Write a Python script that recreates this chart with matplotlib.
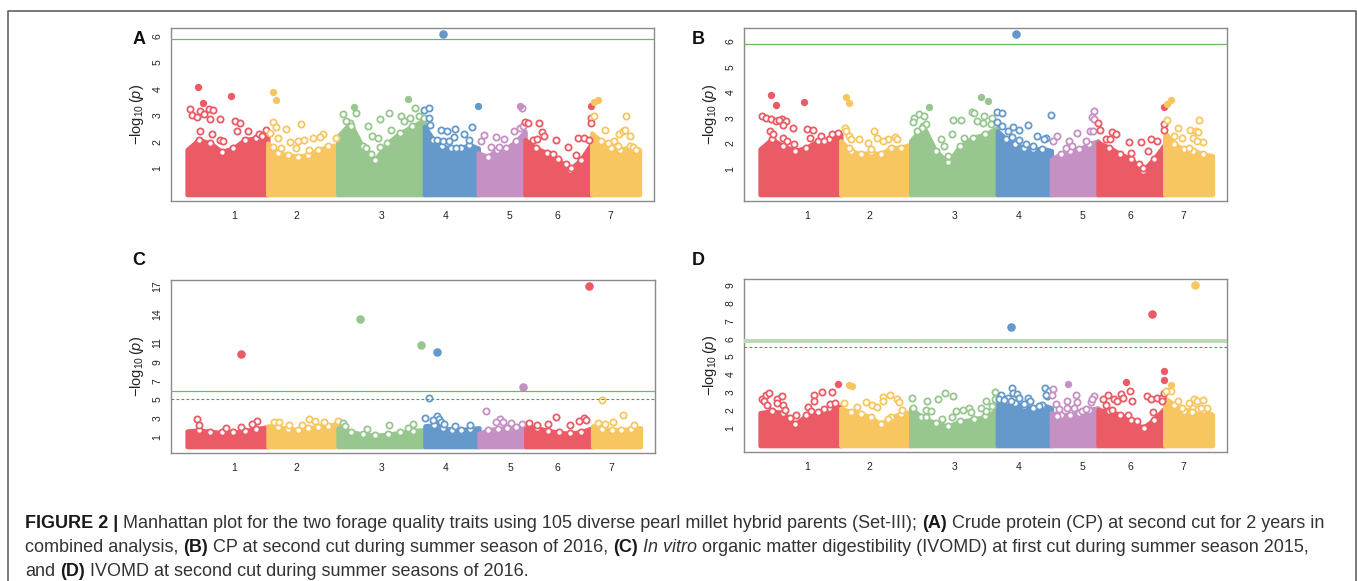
import matplotlib
matplotlib.use("Agg")
import matplotlib.pyplot as plt
import numpy as np
from matplotlib.lines import Line2D

plt.rcParams["font.family"] = ["Liberation Sans", "DejaVu Sans"]
plt.rcParams["mathtext.fontset"] = "custom"
plt.rcParams["mathtext.rm"] = "Liberation Sans"
plt.rcParams["mathtext.it"] = "Liberation Sans:italic"

# ─────────────────────────────────────────────────────────────
# data
# ─────────────────────────────────────────────────────────────
chrom_names = ["1", "2", "3", "4", "5", "6", "7"]
chrom_len = [271, 235, 291, 181, 157, 224, 160]      # Mb
tick_pos = [157, 95, 146, 70, 105, 107, 63]         # label spot inside each chromosome
chrom_colors = ["#EA5B66", "#F8C660", "#97C68F", "#6599CB", "#C590C3", "#EA5B66", "#F8C660"]

# top of the dense marker cloud, evenly spaced along each chromosome
envA = [[1.70, 2.08, 1.95, 1.63, 1.76, 2.08, 2.14, 2.20],
        [1.95, 1.57, 1.51, 1.44, 1.51, 1.70, 1.82, 1.89],
        [2.20, 2.71, 1.82, 1.32, 1.95, 2.33, 2.58, 2.84],
        [2.58, 2.08, 1.82, 1.76, 1.76, 1.89, 1.76],
        [1.57, 1.44, 1.70, 1.76, 2.01, 2.39],
        [2.08, 1.76, 1.57, 1.32, 0.94, 1.32, 1.95],
        [2.33, 2.01, 1.76, 1.70, 1.82, 1.70]]
envB = [[1.78, 2.17, 1.91, 1.72, 1.84, 2.10, 2.17, 2.36],
        [2.10, 1.72, 1.59, 1.65, 1.59, 1.84, 1.84, 1.97],
        [2.10, 2.69, 1.72, 1.26, 1.91, 2.23, 2.36, 2.62],
        [2.49, 2.17, 1.97, 1.84, 1.78, 1.80, 1.72],
        [1.39, 1.59, 1.72, 1.78, 1.97, 2.10],
        [2.04, 1.84, 1.59, 1.39, 0.94, 1.39, 1.97],
        [2.43, 1.97, 1.78, 1.72, 1.59, 1.52]]
envC = [[1.65, 1.75, 1.60, 1.50, 1.50, 1.70, 1.90, 2.10],
        [2.20, 2.10, 1.90, 1.80, 2.00, 2.10, 2.20, 2.50],
        [2.00, 1.60, 1.30, 1.20, 1.30, 1.50, 1.70, 1.80],
        [2.20, 2.30, 2.00, 1.80, 1.80, 1.90, 2.00],
        [1.40, 1.80, 1.90, 2.00, 2.10, 2.20],
        [2.20, 2.00, 1.70, 1.50, 1.40, 1.60, 2.00],
        [2.20, 1.90, 1.80, 1.80, 1.90, 2.00]]
envD = [[1.85, 1.95, 1.85, 1.20, 1.70, 1.90, 2.10, 2.20],
        [2.10, 1.90, 1.80, 1.60, 1.20, 1.60, 1.80, 1.90],
        [2.10, 1.56, 1.28, 1.09, 1.37, 1.46, 1.65, 2.00],
        [2.77, 2.49, 2.40, 2.21, 2.12, 2.30, 2.12],
        [1.84, 1.74, 1.74, 1.84, 2.02, 2.12],
        [2.02, 1.93, 1.74, 1.46, 0.99, 1.46, 2.12],
        [2.68, 2.30, 1.93, 2.12, 2.02, 1.74]]

# individual markers standing out of the cloud: position (Mb) and -log10(p)
posA = [[36, 148, 54, 10, 16, 45, 58, 75, 86, 78, 111, 34, 161, 179, 168, 206, 45, 85, 109, 120, 243, 265, 251],
        [19, 28, 17, 28, 62, 112, 6, 34, 73, 101, 123, 151, 185, 176, 230, 17, 45, 95, 140],
        [17, 54, 62, 28, 45, 103, 115, 143, 171, 235, 261, 211, 221, 244, 274, 289, 179, 134, 143, 110, 95],
        [64, 0, 17, 17, 20, 56, 75, 104, 132, 161, 181, 41, 62, 84, 99, 151, 123, 106],
        [141, 146, 20, 59, 87, 121, 141, 149, 43, 71, 9],
        [0, 9, 48, 56, 65, 26, 40, 104, 143, 179, 199, 216, 93, 110, 138, 155, 171, 223, 223, 222],
        [9, 22, 9, 116, 45, 76, 93, 104, 110, 130, 138, 147, 54, 87]]
valA = [[4.07, 3.72, 3.47, 3.24, 3.03, 3.15, 3.05, 3.24, 3.19, 2.86, 2.86, 2.94, 2.77, 2.69, 2.42, 2.42, 2.39, 2.31, 2.08, 2.01, 2.31, 2.46, 2.20],
        [3.89, 3.57, 2.75, 2.55, 2.50, 2.67, 2.33, 2.14, 1.99, 2.04, 2.08, 2.14, 2.31, 2.17, 2.14, 1.80, 1.76, 1.76, 1.70],
        [3.05, 3.31, 3.09, 2.77, 2.58, 2.61, 2.23, 2.87, 3.09, 3.60, 3.28, 2.99, 2.80, 2.90, 2.99, 2.90, 2.46, 2.14, 1.80, 1.55, 1.76],
        [6.06, 3.19, 3.28, 2.90, 2.65, 2.43, 2.39, 2.48, 2.29, 2.56, 3.37, 2.08, 2.04, 2.04, 2.17, 2.05, 1.76, 1.76],
        [3.34, 3.28, 2.24, 2.18, 2.12, 2.42, 2.52, 2.58, 1.80, 1.80, 2.01],
        [2.75, 2.69, 2.69, 2.35, 2.23, 2.08, 2.10, 2.08, 1.80, 2.14, 2.14, 2.05, 1.55, 1.34, 1.17, 1.00, 1.51, 3.37, 2.90, 2.71],
        [3.50, 3.57, 2.96, 2.96, 2.43, 2.01, 2.31, 2.42, 2.43, 2.20, 1.80, 1.70, 1.95, 1.82]]

posB = [[36, 53, 146, 8, 19, 36, 53, 75, 86, 64, 78, 109, 159, 178, 168, 34, 45, 78, 92, 114, 206, 240, 262, 215],
        [17, 26, 15, 19, 28, 34, 62, 112, 123, 93, 101, 157, 181, 190, 143, 28],
        [62, 11, 28, 45, 50, 39, 22, 6, 235, 258, 207, 213, 246, 274, 221, 243, 143, 170, 140, 103, 112, 125, 179, 269],
        [62, 0, 17, 0, 17, 34, 54, 73, 103, 132, 162, 157, 181, 50, 73, 95, 118],
        [143, 138, 143, 129, 141, 115, 85, 59, 20, 7, 48, 71],
        [0, 7, 48, 59, 26, 40, 104, 143, 179, 199, 168, 110, 138, 152, 223, 223, 223],
        [7, 22, 9, 115, 45, 85, 104, 112, 96, 127, 108, 82, 59, 31]]
valB = [[3.90, 3.51, 3.60, 3.08, 3.01, 2.95, 2.88, 2.97, 2.86, 2.91, 2.71, 2.60, 2.56, 2.52, 2.23, 2.49, 2.36, 2.21, 2.10, 1.97, 2.30, 2.36, 2.40, 2.10],
        [3.83, 3.57, 2.62, 2.49, 2.30, 2.17, 2.17, 2.47, 2.21, 2.00, 1.78, 2.17, 2.26, 2.17, 2.10, 1.84],
        [3.43, 3.01, 3.14, 3.08, 2.75, 2.62, 2.49, 2.82, 3.82, 3.66, 3.21, 3.17, 3.08, 3.01, 2.88, 2.79, 2.91, 2.91, 2.36, 2.19, 1.88, 1.49, 2.23, 2.75],
        [6.26, 3.21, 3.17, 2.82, 2.69, 2.47, 2.66, 2.52, 2.71, 2.30, 2.21, 2.17, 3.12, 2.27, 2.13, 1.97, 1.88],
        [3.25, 3.05, 2.95, 2.49, 2.49, 2.10, 2.39, 2.10, 2.30, 2.10, 1.84, 1.88],
        [2.79, 2.52, 2.43, 2.36, 2.17, 2.17, 2.04, 2.04, 2.17, 2.10, 1.72, 1.62, 1.20, 1.03, 3.43, 2.75, 2.53],
        [3.53, 3.70, 2.91, 2.91, 2.59, 2.53, 2.49, 2.45, 2.23, 2.04, 2.10, 1.84, 2.23, 2.30]]

posC = [[179, 34, 41, 234, 216, 179, 129],
        [19, 38, 138, 157, 189, 233, 69, 113],
        [72, 279, 16, 171, 251, 22, 97, 233],
        [40, 12, 0, 40, 46, 53, 28, 65, 102, 150],
        [147, 25, 69, 57, 107, 144, 82],
        [212, 101, 194, 178, 12, 74, 37, 148, 203],
        [33, 101, 43, 69, 140, 17]]
valC = [[9.86, 2.93, 2.33, 2.76, 2.40, 2.10, 2.00],
        [2.65, 2.58, 2.93, 2.76, 2.58, 2.76, 2.30, 2.30],
        [13.49, 10.74, 2.51, 2.30, 2.40, 2.20, 1.90, 2.00],
        [10.04, 5.15, 3.04, 3.29, 2.95, 2.65, 2.80, 2.40, 2.20, 2.30],
        [6.35, 3.74, 2.93, 2.65, 2.51, 2.40, 2.60],
        [17.0, 3.10, 3.04, 2.76, 2.51, 2.40, 2.30, 2.30, 2.80],
        [4.94, 3.39, 2.40, 2.58, 2.30, 2.50]]

posD = [[8, 19, 30, 13, 22, 56, 58, 72, 78, 83, 100, 122, 161, 181, 181, 207, 213, 240, 235, 252, 263, 170],
        [28, 39, 11, 56, 84, 106, 121, 143, 143, 165, 188, 196, 205, 157, 134],
        [3, 9, 53, 50, 67, 90, 115, 142, 34, 50, 106, 140, 153, 174, 196, 202, 237, 254, 252, 274, 283, 282, 213],
        [47, 11, 6, 50, 54, 67, 73, 34, 45, 103, 110, 140, 160, 174, 168, 162, 22, 90],
        [7, 3, 15, 26, 56, 82, 54, 54, 87, 76, 132, 143, 138, 104, 115, 18],
        [181, 15, 34, 54, 65, 76, 84, 93, 106, 113, 132, 155, 164, 179, 199, 183, 99, 48, 26, 216, 220, 220, 220, 216],
        [102, 20, 22, 3, 43, 59, 82, 99, 108, 130, 112, 143, 93, 121]]
valD = [[2.62, 2.87, 2.96, 2.49, 2.30, 2.59, 2.40, 2.77, 2.30, 2.02, 1.56, 1.74, 2.17, 2.87, 2.49, 3.02, 2.06, 3.02, 2.36, 2.40, 3.48, 1.97],
        [3.43, 3.33, 2.40, 2.17, 2.43, 2.30, 2.17, 2.72, 2.49, 2.83, 2.59, 2.43, 2.02, 1.50, 1.24],
        [2.68, 2.12, 2.49, 1.99, 1.93, 2.62, 2.96, 2.81, 1.61, 1.61, 1.50, 1.61, 1.93, 1.99, 2.12, 1.87, 2.12, 2.49, 1.93, 2.21, 3.00, 2.59, 1.50],
        [6.66, 2.87, 2.59, 3.24, 2.96, 2.92, 2.68, 2.68, 2.53, 2.68, 2.49, 2.25, 3.24, 3.05, 2.77, 2.87, 2.55, 2.36],
        [3.20, 2.87, 2.34, 2.06, 3.48, 2.87, 2.53, 2.12, 2.44, 2.12, 2.44, 2.77, 2.59, 1.93, 2.06, 1.65],
        [7.41, 2.59, 2.83, 2.59, 2.49, 2.92, 2.68, 3.58, 3.09, 2.49, 1.37, 0.99, 2.77, 2.62, 2.68, 1.87, 1.74, 2.02, 2.30, 2.68, 4.19, 3.67, 2.96, 2.49],
        [9.0, 3.43, 3.09, 3.05, 2.49, 2.12, 2.40, 2.59, 2.53, 2.55, 2.06, 2.12, 1.87, 2.12]]

yticksA = [1, 2, 3, 4, 5, 6]
yticksB = [1, 2, 3, 4, 5, 6]
yticksC = [1, 3, 5, 7, 9, 11, 14, 17]
yticksD = [1, 2, 3, 4, 5, 6, 7, 8, 9]

sig_line = {"A": 5.87, "B": 5.87, "C": 5.87, "D": 5.86}
sug_line = {"C": 5.10, "D": 5.56}

# ─────────────────────────────────────────────────────────────
# layout (pixels of a 1357 x 581 canvas)
# ─────────────────────────────────────────────────────────────
W, H = 1357, 581
fig = plt.figure(figsize=(W / 100, H / 100), dpi=100)

def px_axes(x0, y0, x1, y1):
    return fig.add_axes([x0 / W, 1 - y1 / H, (x1 - x0) / W, (y1 - y0) / H])

panels = [
    ("A", px_axes(171, 28, 654, 201), envA, posA, valA, yticksA, 3.3),
    ("B", px_axes(744, 28, 1227, 201), envB, posB, valB, yticksB, 3.3),
    ("C", px_axes(171, 280, 655, 453), envC, posC, valC, yticksC, 9.0),
    ("D", px_axes(744, 279, 1227, 452), envD, posD, valD, yticksD, 3.3),
]
letter_xy = {"A": (139, 40), "B": (698, 40), "C": (139, 260), "D": (698, 261)}

starts = np.concatenate([[0], np.cumsum(chrom_len)[:-1]])
total = float(np.sum(chrom_len))

for name, ax, env, pos, val, yt, fill_min in panels:
    ymax = max(max(v) for v in val)
    for i in range(len(chrom_len)):
        col = chrom_colors[i]
        xs = np.linspace(starts[i], starts[i] + chrom_len[i], len(env[i]))
        ax.fill_between(xs, 0, env[i], facecolor=col, edgecolor=col,
                        lw=3.2, joinstyle="round", zorder=1)
        # rough edge of the cloud
        ax.scatter(xs[1:-1], np.array(env[i])[1:-1], s=20, facecolors="white",
                   edgecolors=col, linewidths=1.3, zorder=2)
        x = starts[i] + np.array(pos[i], dtype=float)
        y = np.array(val[i], dtype=float)
        big = y >= 5.5
        mid = (y >= fill_min) & ~big
        low = ~(big | mid)
        ax.scatter(x[low], y[low], s=20, facecolors="white", edgecolors=col,
                   linewidths=1.3, zorder=2)
        ax.scatter(x[mid], y[mid], s=28, color=col, linewidths=0, zorder=3)
        ax.scatter(x[big], y[big], s=38, color=col, linewidths=0, zorder=4)

    if name == "D":
        ax.axhline(sig_line[name], color="#b7dbb1", lw=2.8, zorder=5)
    else:
        ax.axhline(sig_line[name], color="#72b46a", lw=0.9, zorder=5)
    if name in sug_line:
        ax.axhline(sug_line[name], color="#4f9b49", lw=0.8, ls=(0, (2.5, 2)), zorder=5)

    ax.set_xlim(-54, total + 49)
    ax.set_ylim(-0.04 * ymax, 1.04 * ymax)
    ax.set_xticks(starts + np.array(tick_pos))
    ax.set_xticklabels(chrom_names)
    ax.set_yticks(yt)
    ax.set_yticklabels([str(t) for t in yt], rotation=90, va="center")
    ax.tick_params(length=0, labelsize=7.5, labelcolor="#222222")
    ax.tick_params(axis="x", pad=7)
    ax.tick_params(axis="y", pad=6)
    for sp in ax.spines.values():
        sp.set_color("#8a8a8a")
        sp.set_linewidth(1.0)

    bb = ax.get_position()
    fig.text(bb.x0 - 34 / W, bb.y0 + bb.height / 2, r"$-\log_{10}(\mathit{p})$",
             rotation=90, ha="center", va="center", fontsize=10.5, color="#222222")
    lx, ly = letter_xy[name]
    fig.text(lx / W, 1 - ly / H, name, fontsize=13, fontweight="bold",
             ha="center", va="center", color="#111111")

# outer frame (left, top, right)
fig.add_artist(Line2D([8 / W, 8 / W, 1355.5 / W, 1355.5 / W],
                      [0, 1 - 11 / H, 1 - 11 / H, 0],
                      transform=fig.transFigure, color="#555555", lw=1.1))

# ─────────────────────────────────────────────────────────────
# caption with mixed bold / italic runs
# ─────────────────────────────────────────────────────────────
rend = fig.canvas.get_renderer()
styles = {"n": ("normal", "normal", "#333333"),
          "b": ("bold", "normal", "#1a1a1a"),
          "i": ("normal", "italic", "#333333")}

def text_w(s, size, kind):
    wgt, sty, _ = styles[kind]
    t = fig.text(0, 0, s, fontsize=size, fontweight=wgt, fontstyle=sty)
    w = t.get_window_extent(renderer=rend).width
    t.remove()
    return w

def draw_line(parts, x, y, size, draw=True):
    sp = text_w("x x", size, "n") - text_w("xx", size, "n")
    for s, kind in parts:
        core = s.strip(" ")
        lead = len(s) - len(s.lstrip(" "))
        trail = len(s) - len(s.rstrip(" ")) if core else 0
        x += lead * sp
        if core:
            if draw:
                wgt, sty, col = styles[kind]
                fig.text(x / W, 1 - y / H, core, fontsize=size, fontweight=wgt,
                         fontstyle=sty, color=col, ha="left", va="center")
            x += text_w(core, size, kind)
        x += trail * sp
    return x

line1 = [("FIGURE 2 |", "b"),
         (" Manhattan plot for the two forage quality traits using 105 diverse pearl millet hybrid parents (Set-III); ", "n"),
         ("(A)", "b"), (" Crude protein (CP) at second cut for 2 years in", "n")]
line2 = [("combined analysis, ", "n"), ("(B)", "b"),
         (" CP at second cut during summer season of 2016, ", "n"), ("(C)", "b"),
         (" In vitro", "i"),
         (" organic matter digestibility (IVOMD) at first cut during summer season 2015,", "n")]
line3 = [("and ", "n"), ("(D)", "b"), (" IVOMD at second cut during summer seasons of 2016.", "n")]

base = 12.0
w1 = draw_line(line1, 0, 0, base, draw=False)
cap_size = base * (1324 - 25) / w1
for parts, yy in [(line1, 524), (line2, 548), (line3, 572)]:
    draw_line(parts, 25, yy, cap_size)

fig.savefig("out.png", dpi=100)
